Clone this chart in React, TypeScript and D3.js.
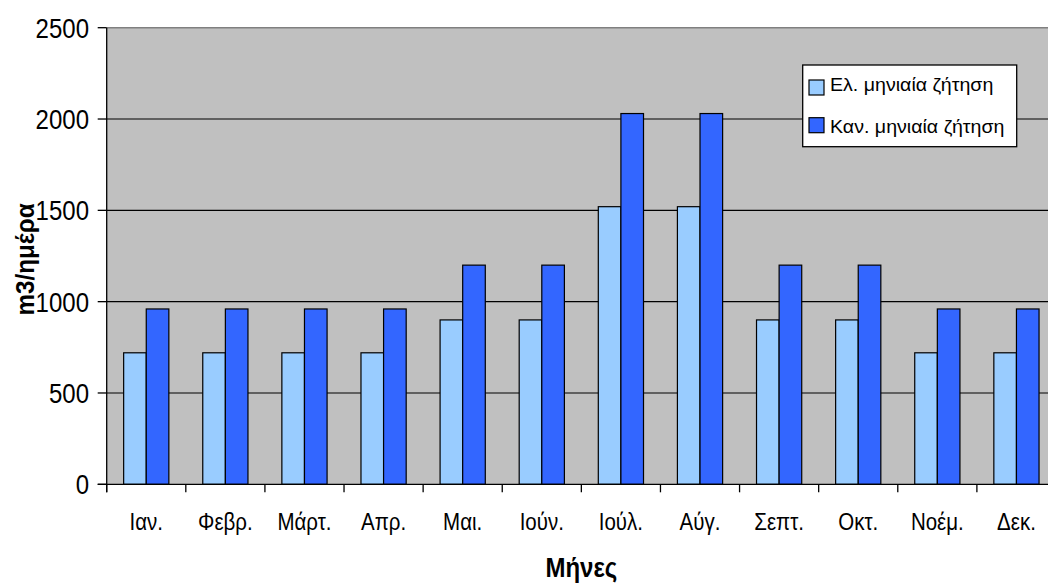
import React from "react";
import * as d3 from "d3";

const months = ["Ιαν.", "Φεβρ.", "Μάρτ.", "Απρ.", "Μαι.", "Ιούν.", "Ιούλ.", "Αύγ.", "Σεπτ.", "Οκτ.", "Νοέμ.", "Δεκ."];
const avgDemand = [720, 720, 720, 720, 900, 900, 1520, 1520, 900, 900, 720, 720];
const peakDemand = [960, 960, 960, 960, 1200, 1200, 2030, 2030, 1200, 1200, 960, 960];
const seriesNames = ["Ελ. μηνιαία ζήτηση", "Καν. μηνιαία ζήτηση"];
const yTicks = [0, 500, 1000, 1500, 2000, 2500];

const W = 1048;
const H = 583;
const FONT = "'Liberation Sans', Arial, sans-serif";
const COLORS = ["#99CCFF", "#3366FF"];

// Text with independent horizontal/vertical scaling of the glyphs
function SText(props: {
  x: number; y: number; size: number; sx?: number; sy?: number; anchor?: string; weight?: string | number; rotate?: number; children: React.ReactNode;
}) {
  const { x, y, size, sx = 1, sy = 1.15, anchor = "start", weight = "normal", rotate = 0, children } = props;
  return (
    <g transform={`translate(${x},${y}) rotate(${rotate}) scale(${sx},${sy})`}>
      <text x={0} y={0} fontSize={size} fontFamily={FONT} fontWeight={weight} textAnchor={anchor} fill="#000">
        {children}
      </text>
    </g>
  );
}

export default function App() {
  const left = 106.7;
  const right = 1056;
  const top = 27.7;
  const bottom = 484.3;

  const x = d3.scaleBand<string>().domain(months).range([left, right]).paddingInner(0).paddingOuter(0);
  const x1 = d3.scaleBand<number>().domain([0, 1]).range([0, x.bandwidth()]).paddingInner(0).paddingOuter(0.75);
  const y = d3.scaleLinear().domain([0, 2500]).range([bottom, top]);

  const series = [avgDemand, peakDemand];
  const boundaries = d3.range(months.length + 1).map((i) => left + i * x.step());

  return (
    <svg width={W} height={H} style={{ position: "absolute", left: 0, top: 0, background: "#fff" }}>
      {/* plot background */}
      <rect x={left} y={top} width={right - left} height={bottom - top} fill="#C0C0C0" />
      <line x1={left} x2={right} y1={top} y2={top} stroke="#808080" strokeWidth={1.5} />
      {/* gridlines */}
      {yTicks.filter((t) => t > 0 && t < 2500).map((t) => (
        <line key={t} x1={left} x2={right} y1={y(t)} y2={y(t)} stroke="#000" strokeWidth={1.2} />
      ))}
      {/* bars */}
      {series.map((vals, si) =>
        vals.map((v, i) => (
          <rect
            key={`${si}-${i}`}
            x={(x(months[i]) as number) + (x1(si) as number)}
            y={y(v)}
            width={x1.bandwidth()}
            height={y(0) - y(v)}
            fill={COLORS[si]}
            stroke="#000"
            strokeWidth={1.2}
          />
        ))
      )}
      {/* axes */}
      <line x1={left} x2={left} y1={top} y2={bottom + 8} stroke="#000" strokeWidth={1.3} />
      <line x1={left - 9} x2={right} y1={bottom} y2={bottom} stroke="#000" strokeWidth={1.3} />
      {yTicks.map((t) => (
        <g key={t}>
          <line x1={left - 9} x2={left} y1={y(t)} y2={y(t)} stroke="#000" strokeWidth={1.3} />
          <SText x={89} y={y(t) + 10} size={24} sy={1.17} anchor="end">{t}</SText>
        </g>
      ))}
      {boundaries.map((b, i) => (
        <line key={i} x1={b} x2={b} y1={bottom} y2={bottom + 8} stroke="#000" strokeWidth={1.3} />
      ))}
      {months.map((m) => (
        <SText key={m} x={(x(m) as number) + x.bandwidth() / 2} y={530} size={20.5} sy={1.18} anchor="middle">{m}</SText>
      ))}
      {/* axis titles */}
      <SText x={(left + right) / 2} y={577} size={24} sy={1.15} anchor="middle" weight="bold">Μήνες</SText>
      <SText x={33.5} y={259.5} size={25} sx={0.97} sy={1} anchor="middle" weight="bold" rotate={-90}>m3/ημέρα</SText>
      {/* legend */}
      <rect x={802.7} y={65} width={214} height={81.7} fill="#fff" stroke="#000" strokeWidth={1.3} />
      {seriesNames.map((name, i) => (
        <g key={name}>
          <rect x={809} y={80 + i * 37.7} width={15} height={15} fill={COLORS[i]} stroke="#000" strokeWidth={1.2} />
          <SText x={830} y={90.5 + i * 42} size={18.5} sx={1.06} sy={0.97}>{name}</SText>
        </g>
      ))}
    </svg>
  );
}
